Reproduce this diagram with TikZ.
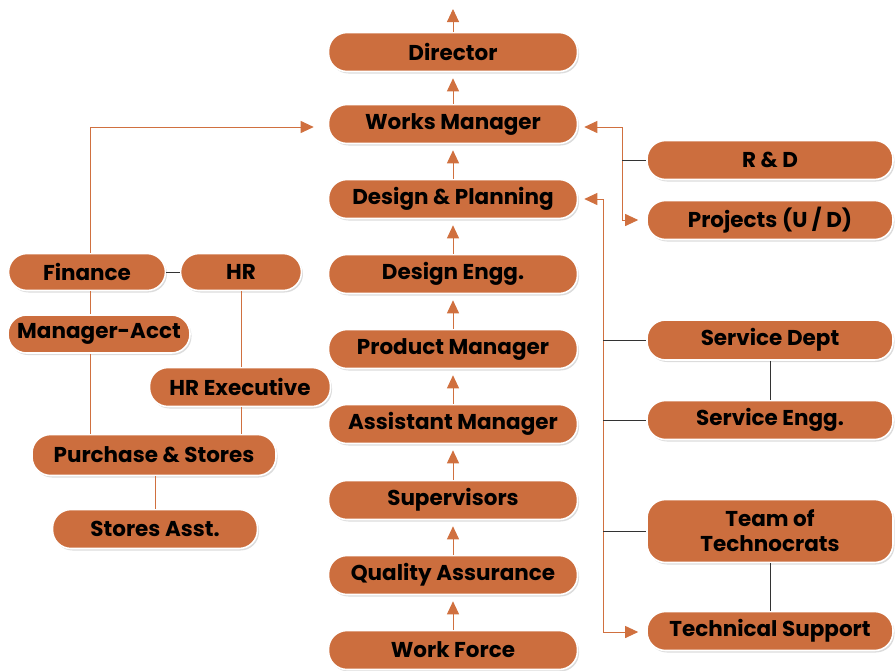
\documentclass[tikz,border=0pt]{standalone}
\usepackage{fontspec}
\setmainfont{Poppins}
\usetikzlibrary{arrows.meta,shadows,positioning}
\definecolor{boxor}{HTML}{CC6E3E}
\definecolor{lineor}{HTML}{D0703F}
\definecolor{darkln}{HTML}{333333}
\tikzset{
  orgbox/.style={rectangle, rounded corners=18.5pt, fill=boxor, draw=white, line width=1.6pt,
    drop shadow={opacity=0.28, shadow xshift=1.5pt, shadow yshift=-2pt},
    inner sep=0pt, align=center, font=\bfseries\fontsize{21.5}{25}\selectfont, text=black},
  oline/.style={draw=lineor, line width=0.9pt},
  bline/.style={draw=darkln, line width=0.9pt},
  arr/.style={oline, -{Triangle[width=12pt,length=13pt]}, shorten >=6pt}
}
\begin{document}
\begin{tikzpicture}[x=1pt,y=-1pt]
\useasboundingbox (0,0) rectangle (895,670);
% central column
\node[orgbox, minimum width=249pt, minimum height=39pt] (dir) at (453,52) {Director};
\node[orgbox, minimum width=249pt, minimum height=39pt] (wm) at (453,124) {Works Manager};
\node[orgbox, minimum width=249pt, minimum height=39pt] (dp) at (453,199) {Design \& Planning};
\node[orgbox, minimum width=249pt, minimum height=39pt] (de) at (453,274) {Design Engg.};
\node[orgbox, minimum width=249pt, minimum height=39pt] (pm) at (453,349) {Product Manager};
\node[orgbox, minimum width=249pt, minimum height=39pt] (am) at (453,424) {Assistant Manager};
\node[orgbox, minimum width=249pt, minimum height=39pt] (sup) at (453,500) {Supervisors};
\node[orgbox, minimum width=249pt, minimum height=39pt] (qa) at (453,575) {Quality Assurance};
\node[orgbox, minimum width=249pt, minimum height=39pt] (wf) at (453,650) {Work Force};
\coordinate (top) at (453,3);
% left
\node[orgbox, minimum width=157pt, minimum height=37pt] (fin) at (87,272) {Finance};
\node[orgbox, minimum width=121pt, minimum height=37pt] (hr) at (241,272) {HR};
\node[orgbox, minimum width=182pt, minimum height=38pt] (ma) at (99,334) {Manager-Acct};
\node[orgbox, minimum width=181pt, minimum height=39pt] (hre) at (240,387) {HR Executive};
\node[orgbox, minimum width=244pt, minimum height=41pt] (ps) at (154,455) {Purchase \& Stores};
\node[orgbox, minimum width=205pt, minimum height=39pt] (sa) at (155,529) {Stores Asst.};
% right
\node[orgbox, minimum width=246pt, minimum height=39pt] (rd) at (770,160) {R \& D};
\node[orgbox, minimum width=246pt, minimum height=39pt] (pr) at (770,220) {Projects (U / D)};
\node[orgbox, minimum width=246pt, minimum height=40pt] (sd) at (770,340) {Service Dept};
\node[orgbox, minimum width=246pt, minimum height=39pt] (se) at (770,420) {Service Engg.};
\node[orgbox, minimum width=246pt, minimum height=63pt] (tt) at (770,531) {Team of\\Technocrats};
\node[orgbox, minimum width=246pt, minimum height=39pt] (ts) at (770,631) {Technical Support};
% central arrows
\draw[arr] (dir.north) -- (top);
\foreach \lo/\up in {wm/dir, dp/wm, de/dp, pm/de, am/pm, sup/am, qa/sup, wf/qa}
  \draw[arr] (\lo.north) -- (\up.south);
% left connectors
\coordinate (lc) at (90,127);
\draw[arr, shorten >=14pt] (lc |- fin.north) -- (lc) -- (wm.west |- lc);
\draw[oline] (lc |- fin.south) -- (lc |- ma.north);
\draw[oline] (lc |- ma.south) -- (lc |- ps.north);
\draw[bline] (fin.east) -- (hr.west);
\draw[oline] (hr.south) -- (hr.south |- hre.north);
\draw[oline] (hr.south |- hre.south) -- (hr.south |- ps.north);
\draw[oline] (ps.south -| sa.north) -- (sa.north);
% right connectors
\coordinate (rc1) at (622,127);
\coordinate (rc1b) at (622,220);
\draw[arr] (rc1) -- (wm.east |- rc1);
\draw[arr, shorten >=8pt] (rc1) -- (rc1b) -- (pr.west);
\draw[bline] (rc1 |- rd.west) -- (rd.west);
\coordinate (rc2) at (603,199);
\coordinate (rc2b) at (603,632);
\draw[arr] (rc2) -- (dp.east);
\draw[arr, shorten >=8pt] (rc2) -- (rc2b) -- (ts.west |- rc2b);
\draw[bline] (rc2 |- sd.west) -- (sd.west);
\draw[bline] (rc2 |- se.west) -- (se.west);
\draw[bline] (rc2 |- tt.west) -- (tt.west);
\draw[bline] (sd.south) -- (se.north);
\draw[bline] (tt.south) -- (ts.north);
\end{tikzpicture}
\end{document}
